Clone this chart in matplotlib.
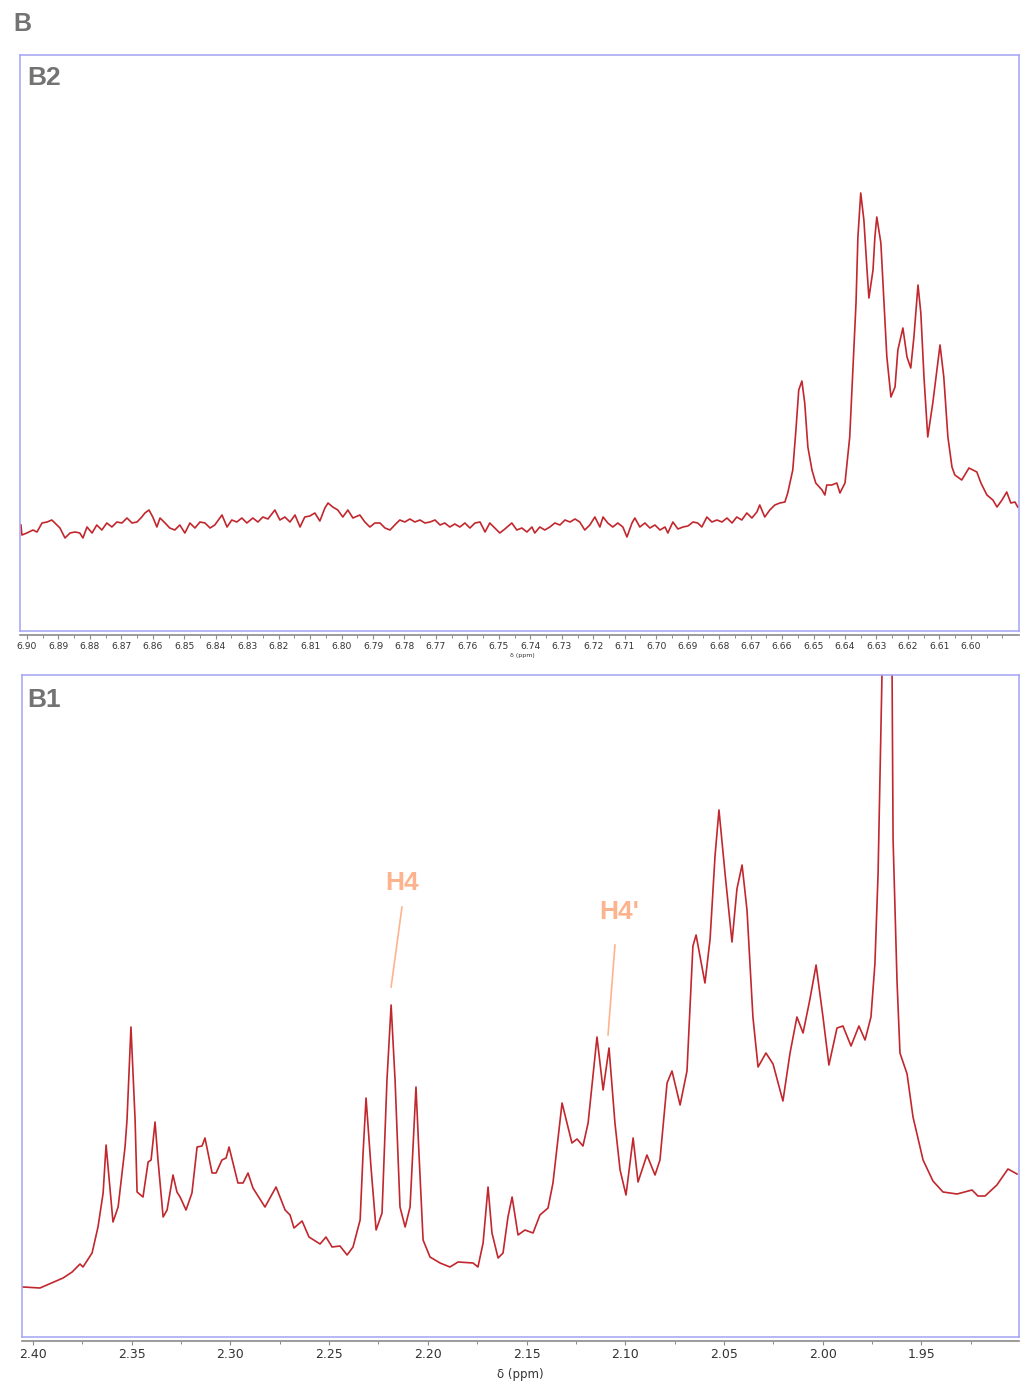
import matplotlib
matplotlib.use("Agg")
import matplotlib.pyplot as plt
import numpy as np

# ---------------- data: panel B2 (aromatic region) ----------------
b2_ppm = [
    6.9019, 6.9016, 6.9000, 6.8981, 6.8968, 6.8952, 6.8936, 6.8921, 6.8911, 6.8895,
    6.8879, 6.8863, 6.8847, 6.8832, 6.8822, 6.8809, 6.8793, 6.8778, 6.8762, 6.8746,
    6.8730, 6.8714, 6.8698, 6.8682, 6.8666, 6.8650, 6.8635, 6.8625, 6.8612, 6.8600,
    6.8587, 6.8577, 6.8561, 6.8546, 6.8530, 6.8514, 6.8498, 6.8482, 6.8466, 6.8450,
    6.8434, 6.8418, 6.8403, 6.8380, 6.8364, 6.8349, 6.8333, 6.8317, 6.8301, 6.8282,
    6.8266, 6.8250, 6.8234, 6.8212, 6.8196, 6.8180, 6.8164, 6.8148, 6.8132, 6.8117,
    6.8101, 6.8085, 6.8069, 6.8053, 6.8043, 6.8028, 6.8012, 6.7996, 6.7980, 6.7964,
    6.7942, 6.7926, 6.7910, 6.7894, 6.7878, 6.7862, 6.7846, 6.7831, 6.7815, 6.7799,
    6.7783, 6.7767, 6.7751, 6.7735, 6.7719, 6.7703, 6.7687, 6.7672, 6.7656, 6.7640,
    6.7624, 6.7608, 6.7592, 6.7576, 6.7560, 6.7544, 6.7529, 6.7513, 6.7497, 6.7481,
    6.7459, 6.7443, 6.7427, 6.7411, 6.7395, 6.7386, 6.7370, 6.7354, 6.7338, 6.7322,
    6.7306, 6.7290, 6.7274, 6.7258, 6.7243, 6.7227, 6.7211, 6.7195, 6.7179, 6.7169,
    6.7154, 6.7138, 6.7122, 6.7106, 6.7093, 6.7077, 6.7068, 6.7052, 6.7036, 6.7020,
    6.7004, 6.6988, 6.6972, 6.6963, 6.6947, 6.6931, 6.6915, 6.6899, 6.6883, 6.6868,
    6.6855, 6.6839, 6.6823, 6.6807, 6.6791, 6.6775, 6.6759, 6.6744, 6.6728, 6.6712,
    6.6696, 6.6680, 6.6671, 6.6655, 6.6639, 6.6623, 6.6607, 6.6591,
    6.6582, 6.6566, 6.6556, 6.6547, 6.6537, 6.6528, 6.6518, 6.6505, 6.6493, 6.6473,
    6.6464, 6.6458, 6.6442, 6.6426, 6.6416, 6.6400, 6.6385, 6.6375, 6.6365, 6.6359,
    6.6350, 6.6340, 6.6330, 6.6324, 6.6311, 6.6305, 6.6299, 6.6286, 6.6276, 6.6267,
    6.6254, 6.6241, 6.6232, 6.6216, 6.6203, 6.6191, 6.6181, 6.6168, 6.6159, 6.6149,
    6.6137, 6.6121, 6.6098, 6.6086, 6.6073, 6.6060, 6.6051, 6.6029, 6.6006, 6.5981,
    6.5968, 6.5949, 6.5930, 6.5917, 6.5901, 6.5886, 6.5873, 6.5860, 6.5851,
]
b2_int = [
    106, 96, 98, 101, 99, 108, 109, 111, 108, 103,
    93, 98, 99, 98, 93, 104, 98, 106, 101, 108,
    104, 109, 108, 113, 108, 109, 114, 118, 121, 114,
    104, 113, 108, 103, 101, 106, 98, 108, 103, 109,
    108, 103, 106, 116, 104, 111, 109, 113, 108, 113,
    109, 114, 112, 121, 111, 114, 109, 116, 104, 114,
    115, 118, 110, 123, 128, 124, 121, 114, 121, 113,
    116, 109, 104, 108, 108, 103, 101, 106, 111, 109,
    112, 109, 111, 108, 109, 111, 106, 108, 104, 107,
    104, 108, 103, 108, 109, 99, 108, 103, 98, 102,
    108, 101, 103, 99, 104, 98, 104, 101, 104, 108,
    106, 111, 109, 112, 109, 101, 106, 114, 104, 114,
    108, 104, 108, 104, 94, 108, 113, 104, 108, 103,
    106, 101, 104, 98, 109, 102, 104, 105, 109, 108,
    104, 114, 109, 111, 109, 113, 108, 114, 111, 118,
    113, 119, 126, 114, 121, 126, 128, 129,
    138, 161, 201, 241, 250, 228, 184, 161, 148, 141,
    136, 146, 146, 148, 138, 148, 194, 261, 328, 394,
    438, 411, 361, 333, 361, 394, 414, 388, 328, 274,
    234, 244, 281, 303, 274, 263, 294, 346, 318, 254,
    194, 228, 286, 254, 194, 164, 156, 151, 163, 159,
    148, 136, 131, 124, 131, 139, 128, 129, 124,
]
b2_ticks = [6.90, 6.89, 6.88, 6.87, 6.86, 6.85, 6.84, 6.83, 6.82, 6.81, 6.80,
            6.79, 6.78, 6.77, 6.76, 6.75, 6.74, 6.73, 6.72, 6.71, 6.70, 6.69,
            6.68, 6.67, 6.66, 6.65, 6.64, 6.63, 6.62, 6.61, 6.60]

# ---------------- data: panel B1 (aliphatic region) ----------------
b1_ppm = [
    2.4051, 2.3965, 2.3848, 2.3802, 2.3762, 2.3747, 2.3701, 2.3671, 2.3645, 2.3630,
    2.3595, 2.3569, 2.3534, 2.3524, 2.3504, 2.3483, 2.3473, 2.3443, 2.3417, 2.3402,
    2.3382, 2.3367, 2.3341, 2.3321, 2.3291, 2.3271, 2.3255, 2.3225, 2.3195, 2.3169,
    2.3144, 2.3129, 2.3093, 2.3073, 2.3043, 2.3022, 2.3007, 2.2962, 2.2936, 2.2911,
    2.2886, 2.2825, 2.2769, 2.2723, 2.2698, 2.2678, 2.2637, 2.2602, 2.2546, 2.2516,
    2.2485, 2.2445, 2.2409, 2.2379, 2.2343, 2.2328, 2.2313, 2.2288, 2.2262, 2.2232,
    2.2207, 2.2186, 2.2166, 2.2141, 2.2115, 2.2090, 2.2075, 2.2060, 2.2045, 2.2024,
    2.1989, 2.1938, 2.1888, 2.1847, 2.1771, 2.1746, 2.1720, 2.1695, 2.1675, 2.1644,
    2.1619, 2.1594, 2.1573, 2.1543, 2.1508, 2.1467, 2.1432, 2.1391, 2.1366, 2.1320,
    2.1270, 2.1244, 2.1214, 2.1188, 2.1143, 2.1112, 2.1082, 2.1052, 2.1026, 2.0996,
    2.0960, 2.0935, 2.0890, 2.0849, 2.0824, 2.0788, 2.0763, 2.0722, 2.0687, 2.0657,
    2.0641, 2.0596, 2.0570, 2.0545, 2.0525, 2.0494, 2.0459, 2.0434, 2.0408, 2.0383,
    2.0353, 2.0327, 2.0287, 2.0251, 2.0201, 2.0165, 2.0130, 2.0099, 2.0064, 2.0033,
    1.9998, 1.9968, 1.9927, 1.9897, 1.9856, 1.9816, 1.9785, 1.9755, 1.9735, 1.9719,
    1.9699, 1.9674, 1.9648, 1.9643, 1.9623, 1.9608, 1.9572, 1.9542, 1.9491, 1.9441,
    1.9390, 1.9319, 1.9243, 1.9213, 1.9177, 1.9117, 1.9061, 1.9015,
]
b1_int = [
    50, 49, 59, 65, 73, 70, 84, 110, 144, 192,
    115, 130, 190, 217, 310, 217, 145, 140, 175, 177,
    215, 177, 120, 127, 162, 145, 140, 127, 144, 190,
    191, 199, 164, 164, 177, 179, 190, 154, 154, 164,
    149, 130, 150, 127, 122, 109, 116, 100, 93, 100,
    90, 91, 82, 90, 117, 184, 239, 170, 107, 124,
    257, 332, 257, 130, 110, 130, 190, 250, 184, 97,
    80, 74, 70, 75, 74, 70, 94, 150, 104, 79,
    84, 120, 140, 102, 107, 104, 122, 129, 154, 234,
    194, 198, 191, 214, 300, 247, 289, 214, 167, 142,
    199, 155, 182, 162, 177, 254, 266, 232, 266, 391,
    402, 354, 398, 481, 527, 463, 395, 448, 472, 427,
    320, 270, 284, 273, 236, 284, 320, 304, 338, 372,
    320, 272, 309, 311, 291, 311, 297, 320, 373, 463,
    663, 1037, 663, 498, 356, 284, 263, 220, 177, 156,
    145, 143, 147, 141, 141, 152, 168, 163,
]
b1_ticks = [2.40, 2.35, 2.30, 2.25, 2.20, 2.15, 2.10, 2.05, 2.00, 1.95]

# annotations (label, label position ppm/intensity, line start, line end)
ann_labels = ["H4", "H4'"]
ann_text_xy = [(2.2131, 454), (2.1031, 425)]
ann_line = [((2.2131, 430), (2.2186, 350)), ((2.1052, 392), (2.1087, 302))]

# ---------------- styling ----------------
W, H = 1027, 1385
LINE = "#C1272D"
FRAME = "#A3A3F5"
AXGRAY = "#8A8A8A"
TXT = "#333333"
PANEL = "#737373"
ANN = "#FDB48E"

fig = plt.figure(figsize=(W / 100, H / 100), dpi=100)


def add_ax(l, t, r, b):
    return fig.add_axes([l / W, 1 - b / H, (r - l) / W, (b - t) / H])


def style(ax, tick_fs, major, minor_step, fmt, xlim, ylim):
    for s in ["top", "left", "right"]:
        ax.spines[s].set_color(FRAME)
        ax.spines[s].set_linewidth(1.1)
    ax.spines["bottom"].set_color(AXGRAY)
    ax.spines["bottom"].set_linewidth(1.2)
    ax.spines["bottom"].set_position(("outward", 3))
    ax.plot([0, 1], [0, 0], transform=ax.transAxes, color=FRAME, lw=1.1,
            clip_on=False, zorder=5, scalex=False, scaley=False)
    ax.set_yticks([])
    ax.set_xticks(major)
    ax.set_xticklabels([fmt.format(v) for v in major])
    lo, hi = min(major), max(major)
    mn = np.arange(lo - minor_step * 2, hi + minor_step * 3, minor_step)
    ax.set_xticks(mn, minor=True)
    ax.tick_params(axis="x", which="major", direction="out", length=3,
                   width=0.8, color=AXGRAY, labelsize=tick_fs, labelcolor=TXT, pad=2)
    ax.tick_params(axis="x", which="minor", direction="out", length=2,
                   width=0.7, color=AXGRAY)
    ax.set_xlim(*xlim)
    ax.set_ylim(*ylim)


# ---- B2 ----
ax2 = add_ax(20, 55, 1019, 631)
ax2.plot(b2_ppm, b2_int, color=LINE, lw=1.2, solid_joinstyle="round")
style(ax2, 6.6, b2_ticks, 0.005, "{:.2f}", (6.9022, 6.5847), (0, 576))
fig.text(522 / W, 1 - 655 / H, "δ (ppm)", fontsize=4.5, color=TXT,
         ha="center", va="center")

# ---- B1 ----
ax1 = add_ax(22, 675, 1019, 1337)
ax1.plot(b1_ppm, b1_int, color=LINE, lw=1.2, solid_joinstyle="round")
style(ax1, 9, b1_ticks, 0.025, "{:.2f}", (2.4056, 1.9005), (0, 662))
ax1.set_xlabel("δ (ppm)", fontsize=8.5, color=TXT, labelpad=5)

for lab, (tx, ty), ((x0, y0), (x1, y1)) in zip(ann_labels, ann_text_xy, ann_line):
    ax1.text(tx, ty, lab, color=ANN, fontsize=19, fontweight="bold",
             family="Liberation Sans", ha="center", va="center")
    ax1.plot([x0, x1], [y0, y1], color=ANN, lw=1.2)

# panel letters
fig.text(13 / W, 1 - 24 / H, "B", fontsize=18, fontweight="bold",
         family="Liberation Sans", color=PANEL, ha="left", va="center")
fig.text(27 / W, 1 - 78 / H, "B2", fontsize=19, fontweight="bold",
         family="Liberation Sans", color=PANEL, ha="left", va="center")
fig.text(27 / W, 1 - 700 / H, "B1", fontsize=19, fontweight="bold",
         family="Liberation Sans", color=PANEL, ha="left", va="center")

fig.savefig("out.png", dpi=100)
